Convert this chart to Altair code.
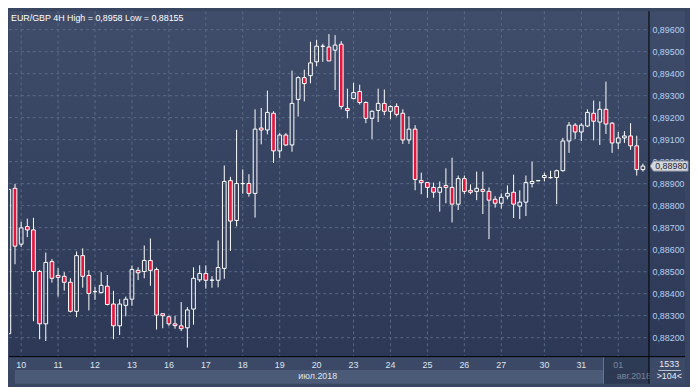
import altair as alt
import pandas as pd

# ---- data (EUR/GBP, 4H bars; bar 0 = first bar of 10 July) ----
bar_no = list(range(-2, 102))
opens = [0.88218, 0.88879, 0.88625, 0.88705, 0.88690, 0.88501, 0.88263, 0.88546, 0.88483, 0.88479,
         0.88452, 0.88320, 0.88573, 0.88483, 0.88409, 0.88405, 0.88434, 0.88353, 0.88254, 0.88347,
         0.88375, 0.88506, 0.88501, 0.88551, 0.88510, 0.88309, 0.88295, 0.88263, 0.88254, 0.88245,
         0.88330, 0.88463, 0.88492, 0.88461, 0.88461, 0.88515, 0.88914, 0.88733, 0.88900, 0.88901,
         0.88856, 0.89153, 0.89144, 0.89220, 0.89049, 0.89121, 0.89076, 0.89283, 0.89382, 0.89391,
         0.89454, 0.89524, 0.89521, 0.89507, 0.89534, 0.89242, 0.89287, 0.89319, 0.89269, 0.89197,
         0.89233, 0.89265, 0.89229, 0.89251, 0.89220, 0.89099, 0.89148, 0.88914, 0.88905, 0.88883,
         0.88861, 0.88892, 0.88883, 0.88807, 0.88923, 0.88870, 0.88865, 0.88874, 0.88865, 0.88829,
         0.88811, 0.88843, 0.88861, 0.88798, 0.88816, 0.88901, 0.88913, 0.88928, 0.88927, 0.88928,
         0.88959, 0.89094, 0.89166, 0.89135, 0.89162, 0.89220, 0.89180, 0.89238, 0.89175, 0.89085,
         0.89108, 0.89117, 0.89072, 0.88964]
highs = [0.88874, 0.88899, 0.88727, 0.88741, 0.88745, 0.88507, 0.88587, 0.88558, 0.88516, 0.88498,
         0.88470, 0.88592, 0.88606, 0.88507, 0.88431, 0.88498, 0.88485, 0.88413, 0.88375, 0.88387,
         0.88528, 0.88520, 0.88619, 0.88651, 0.88519, 0.88309, 0.88300, 0.88300, 0.88362, 0.88339,
         0.88520, 0.88529, 0.88529, 0.88480, 0.88642, 0.88983, 0.88931, 0.89145, 0.88965, 0.88943,
         0.89238, 0.89244, 0.89323, 0.89229, 0.89130, 0.89130, 0.89414, 0.89388, 0.89418, 0.89545,
         0.89554, 0.89536, 0.89580, 0.89575, 0.89548, 0.89332, 0.89359, 0.89350, 0.89274, 0.89233,
         0.89332, 0.89328, 0.89256, 0.89265, 0.89238, 0.89206, 0.89166, 0.88950, 0.88905, 0.88905,
         0.88910, 0.88970, 0.89018, 0.88937, 0.88937, 0.88897, 0.88955, 0.88955, 0.88883, 0.88843,
         0.88856, 0.88892, 0.88941, 0.88870, 0.88937, 0.89000, 0.88914, 0.88950, 0.88959, 0.88964,
         0.89108, 0.89180, 0.89175, 0.89175, 0.89238, 0.89278, 0.89274, 0.89364, 0.89180, 0.89135,
         0.89139, 0.89175, 0.89118, 0.88991]
lows = [0.88218, 0.88534, 0.88612, 0.88657, 0.88275, 0.88193, 0.88185, 0.88450, 0.88387, 0.88414,
        0.88315, 0.88293, 0.88427, 0.88324, 0.88372, 0.88401, 0.88347, 0.88193, 0.88212, 0.88297,
        0.88345, 0.88462, 0.88470, 0.88436, 0.88237, 0.88243, 0.88254, 0.88241, 0.88230, 0.88155,
        0.88259, 0.88454, 0.88423, 0.88427, 0.88429, 0.88468, 0.88594, 0.88706, 0.88854, 0.88841,
        0.88746, 0.89079, 0.89124, 0.88994, 0.89016, 0.89072, 0.89045, 0.89205, 0.89274, 0.89356,
        0.89434, 0.89454, 0.89458, 0.89326, 0.89238, 0.89197, 0.89283, 0.89260, 0.89175, 0.89103,
        0.89180, 0.89211, 0.89193, 0.89206, 0.89081, 0.89081, 0.88870, 0.88852, 0.88836, 0.88836,
        0.88773, 0.88811, 0.88724, 0.88780, 0.88852, 0.88852, 0.88825, 0.88762, 0.88648, 0.88791,
        0.88787, 0.88829, 0.88744, 0.88739, 0.88753, 0.88883, 0.88913, 0.88910, 0.88923, 0.88807,
        0.88955, 0.89040, 0.89103, 0.89094, 0.89157, 0.89097, 0.89076, 0.89126, 0.89040, 0.89058,
        0.89085, 0.89054, 0.88937, 0.88955]
closes = [0.88874, 0.88616, 0.88699, 0.88690, 0.88501, 0.88263, 0.88542, 0.88470, 0.88474, 0.88452,
          0.88320, 0.88573, 0.88479, 0.88401, 0.88410, 0.88438, 0.88351, 0.88254, 0.88353, 0.88375,
          0.88510, 0.88495, 0.88551, 0.88506, 0.88303, 0.88300, 0.88263, 0.88255, 0.88241, 0.88326,
          0.88470, 0.88492, 0.88461, 0.88462, 0.88519, 0.88910, 0.88730, 0.88901, 0.88901, 0.88856,
          0.89148, 0.89144, 0.89224, 0.89049, 0.89121, 0.89076, 0.89265, 0.89382, 0.89355, 0.89449,
          0.89525, 0.89525, 0.89458, 0.89530, 0.89251, 0.89233, 0.89314, 0.89269, 0.89197, 0.89229,
          0.89265, 0.89229, 0.89251, 0.89215, 0.89099, 0.89148, 0.88919, 0.88905, 0.88883, 0.88861,
          0.88883, 0.88883, 0.88807, 0.88923, 0.88865, 0.88861, 0.88879, 0.88865, 0.88825, 0.88811,
          0.88838, 0.88856, 0.88807, 0.88816, 0.88905, 0.88910, 0.88914, 0.88937, 0.88928, 0.88959,
          0.89094, 0.89166, 0.89135, 0.89166, 0.89224, 0.89184, 0.89238, 0.89171, 0.89085, 0.89108,
          0.89117, 0.89072, 0.88964, 0.88980]

day_labels = ["10", "11", "12", "13", "16", "17", "18", "19", "20", "23", "24", "25", "26", "27", "30", "31", "01"]
day_start_bar = [0, 6, 12, 18, 24, 30, 36, 42, 48, 54, 60, 66, 72, 78, 85, 91, 97]
price_ticks = [0.882, 0.883, 0.884, 0.885, 0.886, 0.887, 0.888, 0.889, 0.890, 0.891, 0.892, 0.893, 0.894, 0.895, 0.896]

title_text = "EUR/GBP 4H  High = 0,8958 Low = 0,88155"
month_text = "июл.2018"
next_month_text = "авг.2018"
bars_total = "1533"
bars_visible = ">104<"

# ---- styling ----
RED = "#e3173e"
GRID = "#596987"
FONT = "Liberation Sans"
PLOT_W, PLOT_H = 647, 349

xscale = alt.Scale(domain=[-1.975, 101.911], nice=False, zero=False)
yscale = alt.Scale(domain=[0.881162, 0.896840], nice=False, zero=False)

df = pd.DataFrame({"bar": bar_no, "open": opens, "high": highs, "low": lows, "close": closes})
ticks_df = pd.DataFrame({"p": price_ticks})
days_df = pd.DataFrame({"bar": day_start_bar, "day": day_labels})
one = alt.Data(values=[{}])

bg = alt.Chart(one).mark_rect(
    color=alt.LinearGradient(gradient="linear",
                             stops=[alt.GradientStop(color="#3f4d6a", offset=0),
                                    alt.GradientStop(color="#2c3855", offset=1)],
                             x1=0, x2=0, y1=0, y2=1)
).encode(x=alt.value(0), x2=alt.value(684), y=alt.value(0), y2=alt.value(PLOT_H))

band_top = alt.Chart(one).mark_rect(color="#3b4966").encode(
    x=alt.value(0), x2=alt.value(647), y=alt.value(PLOT_H), y2=alt.value(363))
band_low = alt.Chart(one).mark_rect(color="#4b5a77").encode(
    x=alt.value(6), x2=alt.value(601), y=alt.value(363), y2=alt.value(377))

grid_h = alt.Chart(ticks_df).mark_rule(
    color=GRID, strokeDash=[3, 3], strokeWidth=1).encode(
    y=alt.Y("p:Q", scale=yscale, axis=None), x=alt.value(0), x2=alt.value(PLOT_W))
grid_v = alt.Chart(days_df).mark_rule(
    color=GRID, strokeDash=[3, 3], strokeWidth=1).encode(
    x=alt.X("bar:Q", scale=xscale, axis=None), y=alt.value(0), y2=alt.value(PLOT_H))

# price labels on the right axis
y_labels = alt.Chart(ticks_df).transform_calculate(
    lab="replace(format(datum.p, '.5f'), '.', ',')").mark_text(
    align="left", baseline="middle", font=FONT, fontSize=9, color="#b6cff0").encode(
    y=alt.Y("p:Q", scale=yscale, axis=None), x=alt.value(651), text="lab:N")
# day labels on the bottom axis
x_labels = alt.Chart(days_df).mark_text(
    align="center", baseline="middle", font=FONT, fontSize=9, color="#dde6f1").encode(
    x=alt.X("bar:Q", scale=xscale, axis=None), y=alt.value(358), text="day:N")

base = alt.Chart(df).transform_calculate(
    top="max(datum.open, datum.close)",
    bot="min(datum.open, datum.close)",
    left="datum.bar - 0.3",
    right="datum.bar + 0.3",
)
wick_up = base.mark_rule(color="white", strokeWidth=1, clip=True).encode(
    x=alt.X("bar:Q", scale=xscale, axis=None),
    y=alt.Y("top:Q", scale=yscale, axis=None), y2="high:Q")
wick_dn = base.mark_rule(color="white", strokeWidth=1, clip=True).encode(
    x=alt.X("bar:Q", scale=xscale, axis=None),
    y=alt.Y("low:Q", scale=yscale, axis=None), y2="bot:Q")
body = base.mark_rect(stroke="white", strokeWidth=1, clip=True).encode(
    x=alt.X("left:Q", scale=xscale, axis=None), x2="right:Q",
    y=alt.Y("bot:Q", scale=yscale, axis=None), y2="top:Q",
    fill=alt.when(alt.datum.close < alt.datum.open).then(alt.value(RED)).otherwise(alt.value("transparent")))

title = alt.Chart(one).mark_text(align="left", baseline="alphabetic", font=FONT, fontSize=9,
                                 color="white").encode(
    x=alt.value(2), y=alt.value(9.5), text=alt.value(title_text))

last = pd.DataFrame({"close": [closes[-1]]})
tag_shape = alt.Chart(last).mark_point(
    shape="M-1.19,0L-1,-0.29L1,-0.29L1,0.29L-1,0.29Z", size=1225, filled=True,
    fill="#d5d8de", stroke="#8e95a2", strokeWidth=1, opacity=1).encode(
    x=alt.value(669.5), y=alt.Y("close:Q", scale=yscale, axis=None))
tag_text = alt.Chart(last).transform_calculate(
    lab="replace(format(datum.close, '.5f'), '.', ',')").mark_text(
    align="center", baseline="middle", font=FONT, fontSize=9, color="#1f2535").encode(
    x=alt.value(670), y=alt.Y("close:Q", scale=yscale, axis=None), text="lab:N")

month_txt = alt.Chart(one).mark_text(align="right", baseline="middle", font=FONT, fontSize=9,
                                     color="#dde6f1").encode(
    x=alt.value(332), y=alt.value(369.5), text=alt.value(month_text))
aug_txt = alt.Chart(one).mark_text(align="left", baseline="middle", font=FONT, fontSize=9,
                                   color="#dde6f1").encode(
    x=alt.value(615), y=alt.value(369.5), text=alt.value(next_month_text))
shade = alt.Chart(one).mark_rect(color="#252f47", opacity=0.55).encode(
    x=alt.value(601), x2=alt.value(647), y=alt.value(350), y2=alt.value(377))
shade_line = alt.Chart(one).mark_rule(color="#68758d", strokeWidth=1).encode(
    x=alt.value(601.5), y=alt.value(350), y2=alt.value(377))

corner = alt.Chart(one).mark_rect(color="#3c4a67").encode(
    x=alt.value(648), x2=alt.value(684), y=alt.value(350), y2=alt.value(377))
corner_t1 = alt.Chart(one).mark_text(align="center", baseline="middle", font=FONT, fontSize=9,
                                     color="#e8eef6").encode(
    x=alt.value(668), y=alt.value(356.5), text=alt.value(bars_total))
corner_line = alt.Chart(one).mark_rule(color="#b8c2d0", strokeWidth=1).encode(
    x=alt.value(657), x2=alt.value(680), y=alt.value(363.5))
corner_t2 = alt.Chart(one).mark_text(align="center", baseline="middle", font=FONT, fontSize=9,
                                     color="#e8eef6").encode(
    x=alt.value(668), y=alt.value(369.5), text=alt.value(bars_visible))

black_h = alt.Chart(one).mark_rule(color="#000000", strokeWidth=1).encode(
    x=alt.value(0), x2=alt.value(684), y=alt.value(349.5))
black_v = alt.Chart(one).mark_rule(color="#000000", strokeWidth=1).encode(
    x=alt.value(647.5), y=alt.value(0), y2=alt.value(377))

chart = alt.layer(
    bg, band_top, band_low, grid_h, grid_v, y_labels, x_labels, wick_up, wick_dn, body, title,
    tag_shape, tag_text, month_txt, aug_txt, shade, shade_line, corner, corner_t1, corner_line,
    corner_t2, black_h, black_v
).properties(width=PLOT_W, height=PLOT_H, padding=0).configure(
    background="#384662").configure_view(strokeWidth=0)

chart.save("out.html", embed_options={"renderer": "svg", "actions": False})
